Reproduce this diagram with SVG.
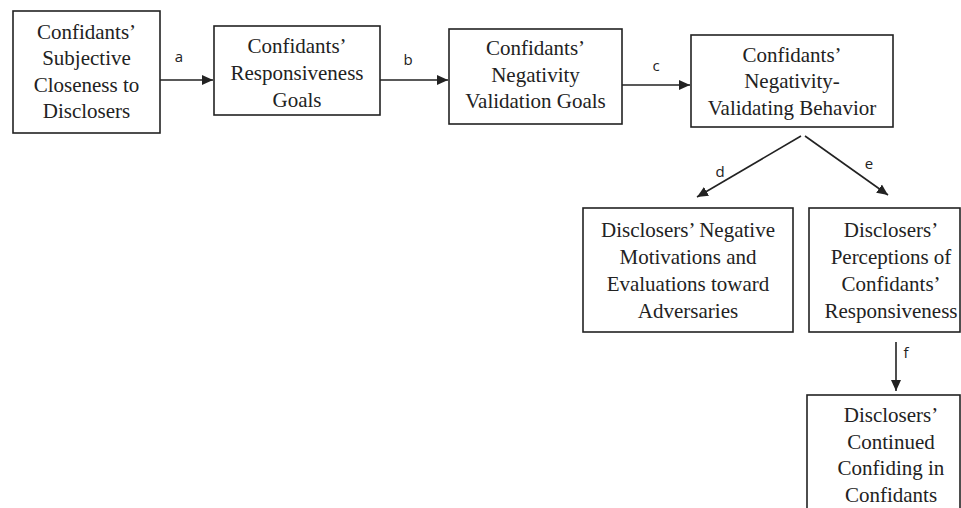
<svg xmlns="http://www.w3.org/2000/svg" width="961" height="508" viewBox="0 0 961 508">
<style>
.box{fill:#fff;stroke:#222;stroke-width:1.6}
.t{font-family:'Liberation Serif','DejaVu Serif',serif;font-size:21px;fill:#222;text-anchor:middle}
.lbl{font-family:'Open Sans','Liberation Sans',sans-serif;font-size:15px;fill:#222;text-anchor:middle}
.c{stroke:#222;stroke-width:1.6;fill:none;marker-end:url(#ah)}
</style>
<defs>
<marker id="ah" markerUnits="userSpaceOnUse" markerWidth="12" markerHeight="12" viewBox="0 0 12 12" refX="11" refY="6" orient="auto">
<path d="M0,1 L11,6 L0,11 Z" fill="#222"/>
</marker>
</defs>
<rect width="961" height="508" fill="#fff"/>
<g id="connectors">
<line class="c" x1="160" y1="80" x2="213" y2="80"/>
<text class="lbl" x="179" y="62">a</text>
<line class="c" x1="380" y1="80" x2="448" y2="80"/>
<text class="lbl" x="408" y="65">b</text>
<line class="c" x1="622" y1="85" x2="690" y2="85"/>
<text class="lbl" x="656" y="71">c</text>
<line class="c" x1="801" y1="136" x2="697" y2="197"/>
<text class="lbl" x="720" y="177">d</text>
<line class="c" x1="805" y1="136" x2="888" y2="195"/>
<text class="lbl" x="869" y="169">e</text>
<line class="c" x1="896" y1="342" x2="896" y2="391"/>
<text class="lbl" x="906" y="358">f</text>
</g>
<g id="n1">
<rect class="box" x="13" y="11" width="147" height="122"/>
<text class="t"><tspan x="86.5" y="39">Confidants’</tspan><tspan x="86.5" y="65">Subjective</tspan><tspan x="86.5" y="92">Closeness to</tspan><tspan x="86.5" y="118">Disclosers</tspan></text>
</g>
<g id="n2">
<rect class="box" x="214" y="26" width="166" height="89"/>
<text class="t"><tspan x="297" y="53">Confidants’</tspan><tspan x="297" y="80">Responsiveness</tspan><tspan x="297" y="107">Goals</tspan></text>
</g>
<g id="n3">
<rect class="box" x="449" y="29" width="173" height="95"/>
<text class="t"><tspan x="535.5" y="55">Confidants’</tspan><tspan x="535.5" y="82">Negativity</tspan><tspan x="535.5" y="108">Validation Goals</tspan></text>
</g>
<g id="n4">
<rect class="box" x="691" y="35" width="202" height="92"/>
<text class="t"><tspan x="792" y="62">Confidants’</tspan><tspan x="792" y="88">Negativity-</tspan><tspan x="792" y="115">Validating Behavior</tspan></text>
</g>
<g id="n5">
<rect class="box" x="583" y="208" width="210" height="124"/>
<text class="t"><tspan x="688" y="237">Disclosers’ Negative</tspan><tspan x="688" y="264">Motivations and</tspan><tspan x="688" y="291">Evaluations toward</tspan><tspan x="688" y="318">Adversaries</tspan></text>
</g>
<g id="n6">
<rect class="box" x="809" y="208" width="151" height="124"/>
<text class="t"><tspan x="891" y="237">Disclosers’</tspan><tspan x="891" y="264">Perceptions of</tspan><tspan x="891" y="291">Confidants’</tspan><tspan x="891" y="318">Responsiveness</tspan></text>
</g>
<g id="n7">
<rect class="box" x="807" y="395" width="153" height="130"/>
<text class="t"><tspan x="891" y="422">Disclosers’</tspan><tspan x="891" y="449">Continued</tspan><tspan x="891" y="475">Confiding in</tspan><tspan x="891" y="502">Confidants</tspan></text>
</g>
</svg>
